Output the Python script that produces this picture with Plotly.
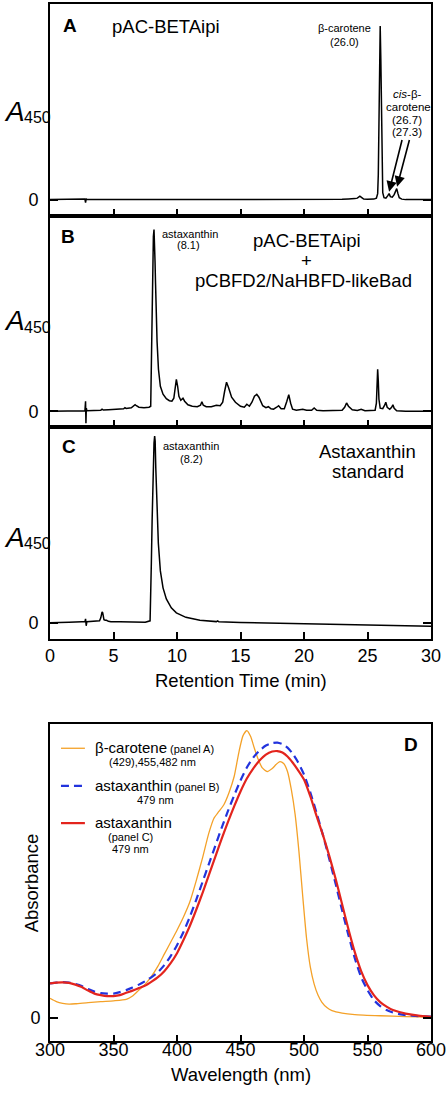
import plotly.graph_objects as go

# ---------------- data ----------------
# Panel A chromatogram: pAC-BETAipi
rt_a = [0, 1.0, 2.0, 2.75, 2.8, 2.85, 2.9, 3.5, 5, 8, 12, 16, 20, 22, 23.0, 23.5, 23.8, 24.0,
        24.2, 24.4, 24.55, 24.7, 25.0, 25.5, 25.7, 25.8, 25.85, 25.9, 25.95, 26.0, 26.05, 26.1,
        26.15, 26.2, 26.3, 26.45, 26.6, 26.7, 26.8, 26.95, 27.1, 27.2, 27.3, 27.4, 27.5, 27.7,
        28.0, 29, 30]
abs_a = [0, 0, 0, 0.5, -3, 1, 0, 0, 0, -0.3, 0, 0, 0.3, 0, 0.3, 0.6, 0.5, 1.0,
         1.5, 3.5, 2.0, 0.5, 0.3, 0.5, 1.5, 6, 25, 70, 135, 174, 140, 70,
         25, 7, 2, 1.5, 4, 6, 3, 2.5, 5, 9, 11, 6, 2, 0.5,
         0, 0, 0]

# Panel B chromatogram: pAC-BETAipi + pCBFD2/NaHBFD-likeBad
rt_b = [0, 1, 2, 2.75, 2.8, 2.83, 2.86, 2.9, 3.2, 3.6, 4.0, 4.1, 4.2, 4.6, 5.2, 5.8, 5.9, 6.0,
        6.4, 6.6, 6.7, 6.8, 7.0, 7.4, 7.8, 7.93, 7.98, 8.04, 8.09, 8.14, 8.19, 8.23, 8.27, 8.31,
        8.35, 8.43, 8.54, 8.69, 8.9, 9.16, 9.4, 9.6, 9.75, 9.85, 9.95, 10.05, 10.15, 10.3, 10.47,
        10.6, 10.86, 11.2, 11.6, 11.85, 11.96, 12.07, 12.3, 12.7, 13.1, 13.4, 13.6, 13.75, 13.9,
        14.05, 14.3, 14.6, 15.0, 15.3, 15.5, 15.7, 15.9, 16.1, 16.28, 16.45, 16.75, 17.0, 17.2,
        17.4, 17.6, 17.85, 18.0, 18.2, 18.45, 18.65, 18.8, 18.95, 19.1, 19.4, 19.7, 19.9, 20.2,
        20.6, 20.8, 21.0, 21.5, 22.5, 23.0, 23.2, 23.35, 23.5, 23.8, 24.2, 24.5, 24.8, 25.3, 25.6,
        25.7, 25.75, 25.8, 25.85, 25.9, 26.0, 26.2, 26.35, 26.44, 26.55, 26.75, 26.9, 27.0, 27.1,
        27.3, 28, 29, 30]
abs_b = [0, 0, 0.3, 0.5, 10, -12, 3, 0.5, 0.5, 0.8, 1, 2, 1.2, 1.5, 2, 2.5, 3.5, 2.8,
         3.5, 5.5, 6.5, 5.5, 4, 3.5, 4, 5, 45, 105, 150, 175, 182, 170, 150, 128,
         108, 70, 42, 25, 17, 12.5, 10.5, 10, 13, 24, 32, 25, 15, 11, 13,
         10, 6.5, 5, 4.5, 6, 9.5, 6, 4.5, 4.5, 6, 5.5, 9, 20, 29,
         24, 14, 9, 5, 4, 7, 5, 9, 15, 17, 14, 5.5, 3.5, 4.5,
         2.5, 2, 4, 5.5, 2.5, 2.5, 10, 16.5, 8, 2, 1, 1.5, 2, 1,
         1, 3.3, 1, 0.5, 0.5, 1, 4, 8.3, 5, 1.5, 0.8, 2, 0.5, 0.5, 1,
         8, 25, 42, 30, 12, 3, 2.5, 6, 9, 4, 2, 4, 6.5, 3,
         0.5, 0, 0, 0]

# Panel C chromatogram: astaxanthin standard
rt_c = [0, 0.5, 1.5, 2.5, 2.75, 2.8, 2.85, 2.9, 3.4, 3.9, 4.0, 4.1, 4.15, 4.25, 4.35, 4.45,
        4.6, 4.8, 5.5, 6.5, 7.5, 7.88, 7.93, 7.98, 8.04, 8.09, 8.14, 8.19, 8.24, 8.28, 8.33,
        8.38, 8.43, 8.53, 8.69, 8.9, 9.16, 9.55, 9.95, 10.7, 11.8, 13.1, 13.2, 13.3, 15, 20,
        25, 30]
abs_c = [0, 0, 0.5, 1, 1, 4, -3, 1, 1.5, 2, 5, 11, 10, 3, 2.5, 2.5,
         1.5, 1, 1, 0.8, 0.6, 2, 22, 60, 102, 135, 162, 180, 187, 182, 155,
         132, 110, 80, 52, 35, 24, 15, 10, 5.5, 2.5, 1.2, 2, 1, 0.3, -1,
         -2.5, -3.5]

# Panel D absorption spectra
wl_bcar = [300, 305, 310, 315, 320, 330, 340, 350, 360, 365, 370, 375, 380, 385, 390, 395, 400,
           405, 410, 415, 420, 425, 429, 433, 437, 441, 445, 449, 452, 455, 458, 461, 464, 467,
           471, 475, 478, 481, 484, 487, 490, 493, 496, 499, 502, 505, 508, 511, 514, 518, 522,
           530, 540, 560, 580, 600]
bcar = [19.7, 16.5, 14.8, 14, 14.3, 15.5, 16.5, 17.3, 18.7, 22, 28, 34, 42, 52, 64, 76, 88,
        101, 116, 137, 160, 185, 200, 207, 214, 226, 242, 268, 283, 288, 282, 270, 259, 251,
        247, 250, 254, 257, 255, 247, 229, 204, 167, 122, 80, 51, 34, 23, 16, 10.5, 7.5,
        5, 3.5, 2.3, 1.5, 1]

wl_asta = [300, 305, 310, 315, 320, 325, 330, 335, 340, 345, 350, 355, 360, 365, 370, 375, 380,
           385, 390, 395, 400, 405, 410, 415, 420, 425, 430, 435, 440, 445, 450, 455, 460, 465,
           470, 475, 479, 483, 487, 491, 495, 500, 505, 510, 515, 520, 525, 530, 535, 540, 545,
           550, 555, 560, 565, 570, 575, 580, 590, 600]
asta_b = [34.7, 35.5, 36, 35.5, 34, 32, 29, 26.5, 25, 24.5, 24.5, 26, 28, 30.5, 33.5, 37, 41,
          46, 53, 62, 73, 86, 101, 118, 136, 154, 172, 190, 207, 223, 238, 251, 261, 268,
          273, 275.5, 276, 274.5, 271, 265, 257, 244, 226, 205, 183, 159, 134, 108, 83, 60, 41,
          28, 18, 12, 8, 5.5, 4, 3, 2, 1.5]
asta_c = [34.7, 35.5, 35.8, 35.2, 33.5, 31, 27.5, 24.5, 23, 22, 22, 23, 25.3, 27.5, 30, 32.5, 36.5,
          41, 47, 55, 65, 78, 92, 108, 125, 143, 161, 179, 196, 212, 227, 240, 250, 258,
          264, 267, 267.5, 266, 262, 256, 249, 239, 222, 202, 183, 162, 139, 114, 89, 66, 47,
          33, 23, 16, 11.5, 8, 6, 4.5, 2.5, 1.3]

rt_ticks = [0, 5, 10, 15, 20, 25, 30]
wl_ticks = [300, 350, 400, 450, 500, 550, 600]

# ---------------- geometry helpers ----------------
W, H = 448, 1094
ML, MR, MT, MB = 50, 16, 2, 53
PW, PH = W - ML - MR, H - MT - MB


def fx(px):
    return (px - ML) / PW


def fy(py):
    return (H - MB - py) / PH


FONT = "Liberation Sans, Arial, Helvetica, sans-serif"

dom_a = [fy(214), 1.0]
dom_b = [fy(426), fy(214)]
dom_c = [fy(638), fy(426)]
dom_d = [0.0, fy(723)]

fig = go.Figure()
line_k = dict(color="black", width=1.5)
fig.add_trace(go.Scatter(x=rt_a, y=abs_a, mode="lines", line=line_k, xaxis="x", yaxis="y", showlegend=False))
fig.add_trace(go.Scatter(x=rt_b, y=abs_b, mode="lines", line=line_k, xaxis="x2", yaxis="y2", showlegend=False))
fig.add_trace(go.Scatter(x=rt_c, y=abs_c, mode="lines", line=line_k, xaxis="x3", yaxis="y3", showlegend=False))

ORANGE, BLUE, RED = "#F4A128", "#2233DD", "#E3241D"
fig.add_trace(go.Scatter(x=wl_bcar, y=bcar, mode="lines", line=dict(color=ORANGE, width=1.3, shape="spline", smoothing=0.6),
                         xaxis="x4", yaxis="y4", showlegend=False))
fig.add_trace(go.Scatter(x=wl_asta, y=asta_b, mode="lines", line=dict(color=BLUE, width=2.2, dash="8px,5px", shape="spline", smoothing=0.6),
                         xaxis="x4", yaxis="y4", showlegend=False))
fig.add_trace(go.Scatter(x=wl_asta, y=asta_c, mode="lines", line=dict(color=RED, width=2.2, shape="spline", smoothing=0.6),
                         xaxis="x4", yaxis="y4", showlegend=False))

axis_common = dict(showline=True, linecolor="black", linewidth=2, showgrid=False, zeroline=False,
                   ticks="inside", tickcolor="black", tickwidth=1.5,
                   tickfont=dict(family=FONT, size=18, color="black"))

def xax(anchor, labels):
    d = dict(axis_common)
    d.update(domain=[0, 1], anchor=anchor, range=[0, 30], tickvals=rt_ticks, ticklen=7,
             mirror=True, showticklabels=labels, ticklabelstandoff=0)
    return d

def yax(anchor, dom):
    d = dict(axis_common)
    d.update(domain=dom, anchor=anchor, range=[-16, 196], tickvals=[0], ticktext=["0"],
             ticklen=8, mirror="ticks", ticklabelstandoff=6)
    return d

xd = dict(axis_common)
xd.update(domain=[0, 1], anchor="y4", range=[300, 600], tickvals=wl_ticks, ticklen=6, mirror=True,
          ticklabelstandoff=-9)
yd = dict(axis_common)
yd.update(domain=dom_d, anchor="x4", range=[-23, 295], tickvals=[0], ticktext=["0"], ticklen=8,
          mirror="ticks", ticklabelstandoff=4)

fig.update_layout(
    width=W, height=H, margin=dict(l=ML, r=MR, t=MT, b=MB),
    paper_bgcolor="white", plot_bgcolor="white",
    font=dict(family=FONT, color="black"),
    xaxis=xax("y", False), xaxis2=xax("y2", False), xaxis3=xax("y3", True), xaxis4=xd,
    yaxis=yax("x", dom_a), yaxis2=yax("x2", dom_b), yaxis3=yax("x3", dom_c), yaxis4=yd,
)

ann = []

def txt(px, py, text, size, xanchor="center", bold=False, angle=0):
    t = "<b>%s</b>" % text if bold else text
    ann.append(dict(x=fx(px), y=fy(py), xref="paper", yref="paper", text=t, showarrow=False,
                    xanchor=xanchor, yanchor="middle", textangle=angle,
                    font=dict(family=FONT, size=size, color="black")))

# panel letters
txt(70, 24, "A", 19, bold=True)
txt(68.5, 235, "B", 19, bold=True)
txt(69, 445.5, "C", 19, bold=True)
txt(411.5, 743.5, "D", 19, bold=True)

# panel titles
txt(166.7, 25, "pAC-BETAipi", 18.5)
txt(307.5, 238.5, "pAC-BETAipi", 18.5)
txt(307.5, 258.5, "+", 18.5)
txt(304, 279.5, "pCBFD2/NaHBFD-likeBad", 18.5)
txt(368, 450, "Astaxanthin", 18.5)
txt(369, 470.5, "standard", 18.5)

# peak labels
txt(345, 26.5, "β-carotene", 11)
txt(345, 40, "(26.0)", 11)
txt(408, 92.5, "<i>cis</i>-β-", 11.5)
txt(409, 105, "carotene", 11.5)
txt(407.5, 118, "(26.7)", 11.5)
txt(407.5, 130.5, "(27.3)", 11.5)
txt(190, 232.5, "astaxanthin", 11)
txt(189, 243.5, "(8.1)", 11)
txt(191.7, 445, "astaxanthin", 11)
txt(191.7, 457.5, "(8.2)", 11)

# y-axis titles A450
for ymid in (109.5, 319.5, 536.5):
    txt(2, ymid, "<i>A</i>", 28, xanchor="left")
    txt(22, ymid + 6.5, "450", 16, xanchor="left")

# axis titles
txt(241, 680, "Retention Time (min)", 18.5)
txt(241, 1074.5, "Wavelength (nm)", 18.5)
txt(31, 883, "Absorbance", 18.5, angle=-90)

# legend of panel D
txt(93, 746.5, "β-carotene<span style='font-size:11px'> (panel A)</span>", 15, xanchor="left")
txt(152.5, 761.3, "(429),455,482 nm", 11)
txt(93, 785, "astaxanthin<span style='font-size:11px'> (panel B)</span>", 15, xanchor="left")
txt(155.3, 799.5, "479 nm", 11)
txt(93, 822.5, "astaxanthin", 15, xanchor="left")
txt(131, 836.7, "(panel C)", 11)
txt(131, 848.5, "479 nm", 11)

# arrows to cis peaks
for hx, hy, tx in ((26.7, 8, 27.75), (27.33, 13, 28.33)):
    ann.append(dict(x=hx, y=hy, xref="x", yref="y", ax=tx, ay=61.3, axref="x", ayref="y",
                    text="", showarrow=True, arrowhead=2, arrowsize=1.3, arrowwidth=1.6,
                    arrowcolor="black", standoff=0))

shapes = []
for py, col, dash in ((747.7, ORANGE, "solid"), (785.3, BLUE, "8px,5px"), (822.7, RED, "solid")):
    shapes.append(dict(type="line", xref="paper", yref="paper", x0=fx(61), x1=fx(85), y0=fy(py), y1=fy(py),
                       line=dict(color=col, width=1.3 if col == ORANGE else 2.2, dash=dash)))

fig.update_layout(annotations=ann, shapes=shapes)
fig.write_html("out.html", config={"displayModeBar": False},
               post_script="document.body.style.margin='0';document.body.style.overflow='hidden';")
